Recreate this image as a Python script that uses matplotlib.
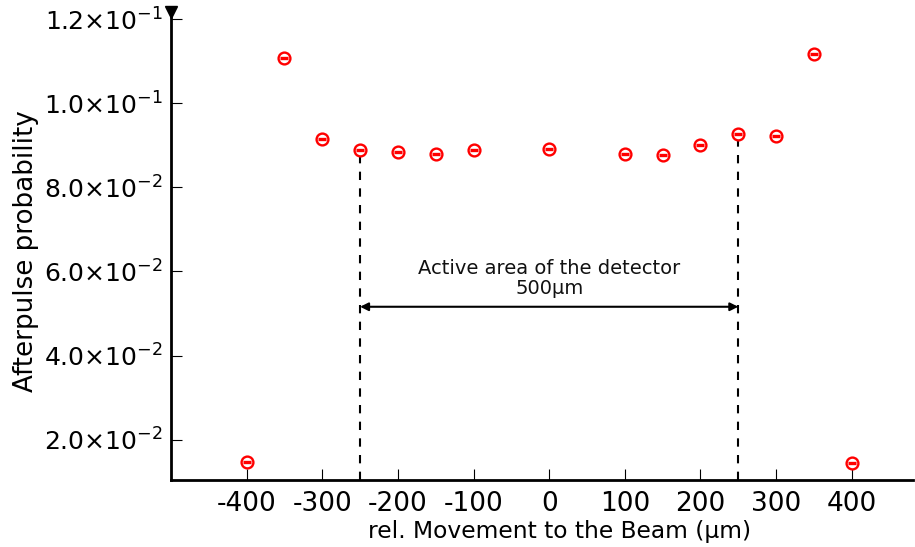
import numpy as np
import matplotlib
matplotlib.use('Agg')
import matplotlib.pyplot as plt
from matplotlib.ticker import FixedLocator, FixedFormatter

# afterpulse probability vs. beam position
pos = [-400, -350, -300, -250, -200, -150, -100, 0, 100, 150, 200, 250, 300, 350, 400]
prob = [0.0147, 0.1108, 0.0914, 0.0888, 0.0883, 0.0880, 0.0888, 0.0892,
        0.0880, 0.0878, 0.0900, 0.0926, 0.0921, 0.1117, 0.0145]

xticks = [-400, -300, -200, -100, 0, 100, 200, 300, 400]
yticks = [0.02, 0.04, 0.06, 0.08, 0.10, 0.12]
ylabels = [r'$2.0{\times}10^{-2}$', r'$4.0{\times}10^{-2}$', r'$6.0{\times}10^{-2}$',
           r'$8.0{\times}10^{-2}$', r'$1.0{\times}10^{-1}$', r'$1.2{\times}10^{-1}$']

edge = [-250, 250]
arrow_y = 0.0516

plt.rcParams['mathtext.default'] = 'regular'

fig = plt.figure(figsize=(9.15, 5.47), dpi=100)
ax = fig.add_axes([171/915, 1 - 480/547, (913-171)/915, (480-12)/547])

ax.set_xlim(-500, 481)
ax.set_ylim(0.0104, 0.1217)

# detector edges
for e, p in zip(edge, [prob[pos.index(e)] for e in edge]):
    ax.plot([e, e], [ax.get_ylim()[0], p - 0.0015], 'k--', lw=1.5, dashes=(4, 4))

ax.annotate('', xy=(edge[0], arrow_y), xytext=(edge[1], arrow_y),
            arrowprops=dict(arrowstyle='<|-|>', color='black', lw=1.5,
                            shrinkA=0, shrinkB=0, mutation_scale=12))
ax.text(0, arrow_y + 0.0022, 'Active area of the detector\n500μm', ha='center',
        va='bottom', fontsize=14, linespacing=1.05, color='#111111')

ax.plot(pos, prob, 'o', mfc='none', mec='red', mew=1.7, ms=8.5, ls='none')
ax.plot(pos, prob, '_', color='red', mew=2.4, ms=5.5, ls='none')

ax.spines['top'].set_visible(False)
ax.spines['right'].set_visible(False)
ax.spines['left'].set_linewidth(2)
ax.spines['bottom'].set_linewidth(2)
ax.plot([0], [1], 'v', color='black', ms=9, transform=ax.transAxes, clip_on=False)

ax.xaxis.set_major_locator(FixedLocator(xticks))
ax.set_xticklabels([str(t) for t in xticks], fontsize=19)
ax.yaxis.set_major_locator(FixedLocator(yticks))
ax.yaxis.set_major_formatter(FixedFormatter(ylabels))
ax.tick_params(axis='y', labelsize=18, direction='in', length=8, pad=6)
ax.tick_params(axis='x', direction='in', length=8, pad=8)

ax.set_xlabel('rel. Movement to the Beam (μm)', fontsize=16.8)
ax.xaxis.set_label_coords(0.523, -0.085)
ax.set_ylabel('Afterpulse probability', fontsize=18.8)
ax.yaxis.set_label_coords(-0.178, 0.49)

fig.savefig('out.png', dpi=100)
